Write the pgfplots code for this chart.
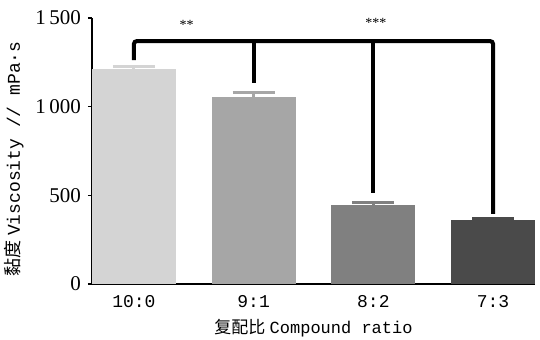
\documentclass[border=0pt]{standalone}
\usepackage{pgfplots}
\pgfplotsset{compat=1.18}
\usepackage{fontspec}
\setmainfont{Liberation Serif}
\newfontfamily\cjk{Noto Sans CJK SC}
\newfontfamily\mono{Liberation Mono}
\usetikzlibrary{calc}
\begin{document}
\begin{tikzpicture}
\begin{axis}[
  scale only axis,
  width=221.5pt, height=133pt,
  xmin=-0.35, xmax=3.35,
  ymin=0, ymax=1500,
  axis lines=left,
  axis line style={line width=1pt, -},
  xtick={0,1,2,3},
  xticklabels={10:0,9:1,8:2,7:3},
  x tick label style={font=\mono\fontsize{9}{10}\selectfont, yshift=0pt},
  major x tick style={draw=none},
  ytick={0,500,1000,1500},
  yticklabels={0,500,1\,000,1\,500},
  y tick label style={font=\fontsize{10.5}{12}\selectfont},
  tick align=outside,
  major tick length=2pt,
  major y tick style={line width=0.8pt, black},
  xlabel={{\cjk 复配比} {\mono Compound ratio}},
  xlabel style={font=\fontsize{8.5}{10}\selectfont, yshift=1pt},
  ylabel={{\cjk 黏度} {\mono Viscosity // mPa·s}},
  ylabel style={font=\fontsize{9}{10}\selectfont, at={(ticklabel cs:0.47)}, yshift=-1pt},
  clip=false,
  ybar, bar width=0.7, bar shift=0pt,
]
\coordinate (bl) at (rel axis cs:0,0);
\coordinate (tr) at (rel axis cs:1,1);
\addplot[fill=black!17, draw=none, error bars/.cd, y dir=plus, y explicit,
  error bar style={color=black!17, line width=1.5pt},
  error mark options={rotate=90, mark size=10.5pt, line width=1.5pt, color=black!17}]
  coordinates {(0,1212) +- (0,12)};
\addplot[fill=black!35, draw=none, error bars/.cd, y dir=plus, y explicit,
  error bar style={color=black!35, line width=1.5pt},
  error mark options={rotate=90, mark size=10.5pt, line width=1.5pt, color=black!35}]
  coordinates {(1,1055) +- (0,26)};
\addplot[fill=black!50, draw=none, error bars/.cd, y dir=plus, y explicit,
  error bar style={color=black!50, line width=1.5pt},
  error mark options={rotate=90, mark size=10.5pt, line width=1.5pt, color=black!50}]
  coordinates {(2,445) +- (0,15)};
\addplot[fill=black!71, draw=none, error bars/.cd, y dir=plus, y explicit,
  error bar style={color=black!71, line width=1.5pt},
  error mark options={rotate=90, mark size=10.5pt, line width=1.5pt, color=black!71}]
  coordinates {(3,360) +- (0,10)};
% brackets
\addplot[sharp plot, line width=2pt, black, mark=none, rounded corners=1.5pt]
  coordinates {(0,1263) (0,1370) (3,1370) (3,395)};
\addplot[sharp plot, line width=2pt, black, mark=none] coordinates {(1,1370) (1,1134)};
\addplot[sharp plot, line width=2pt, black, mark=none] coordinates {(2,1370) (2,513)};
\node[font=\fontsize{7}{8}\selectfont] at (axis cs:0.44,1460) {**};
\node[font=\fontsize{7}{8}\selectfont] at (axis cs:2.02,1475) {***};
\end{axis}
\pgfresetboundingbox
\path[use as bounding box] ($(bl)+(-46pt,-28pt)$) rectangle ($(tr)+(2.5pt,9pt)$);
\end{tikzpicture}
\end{document}
